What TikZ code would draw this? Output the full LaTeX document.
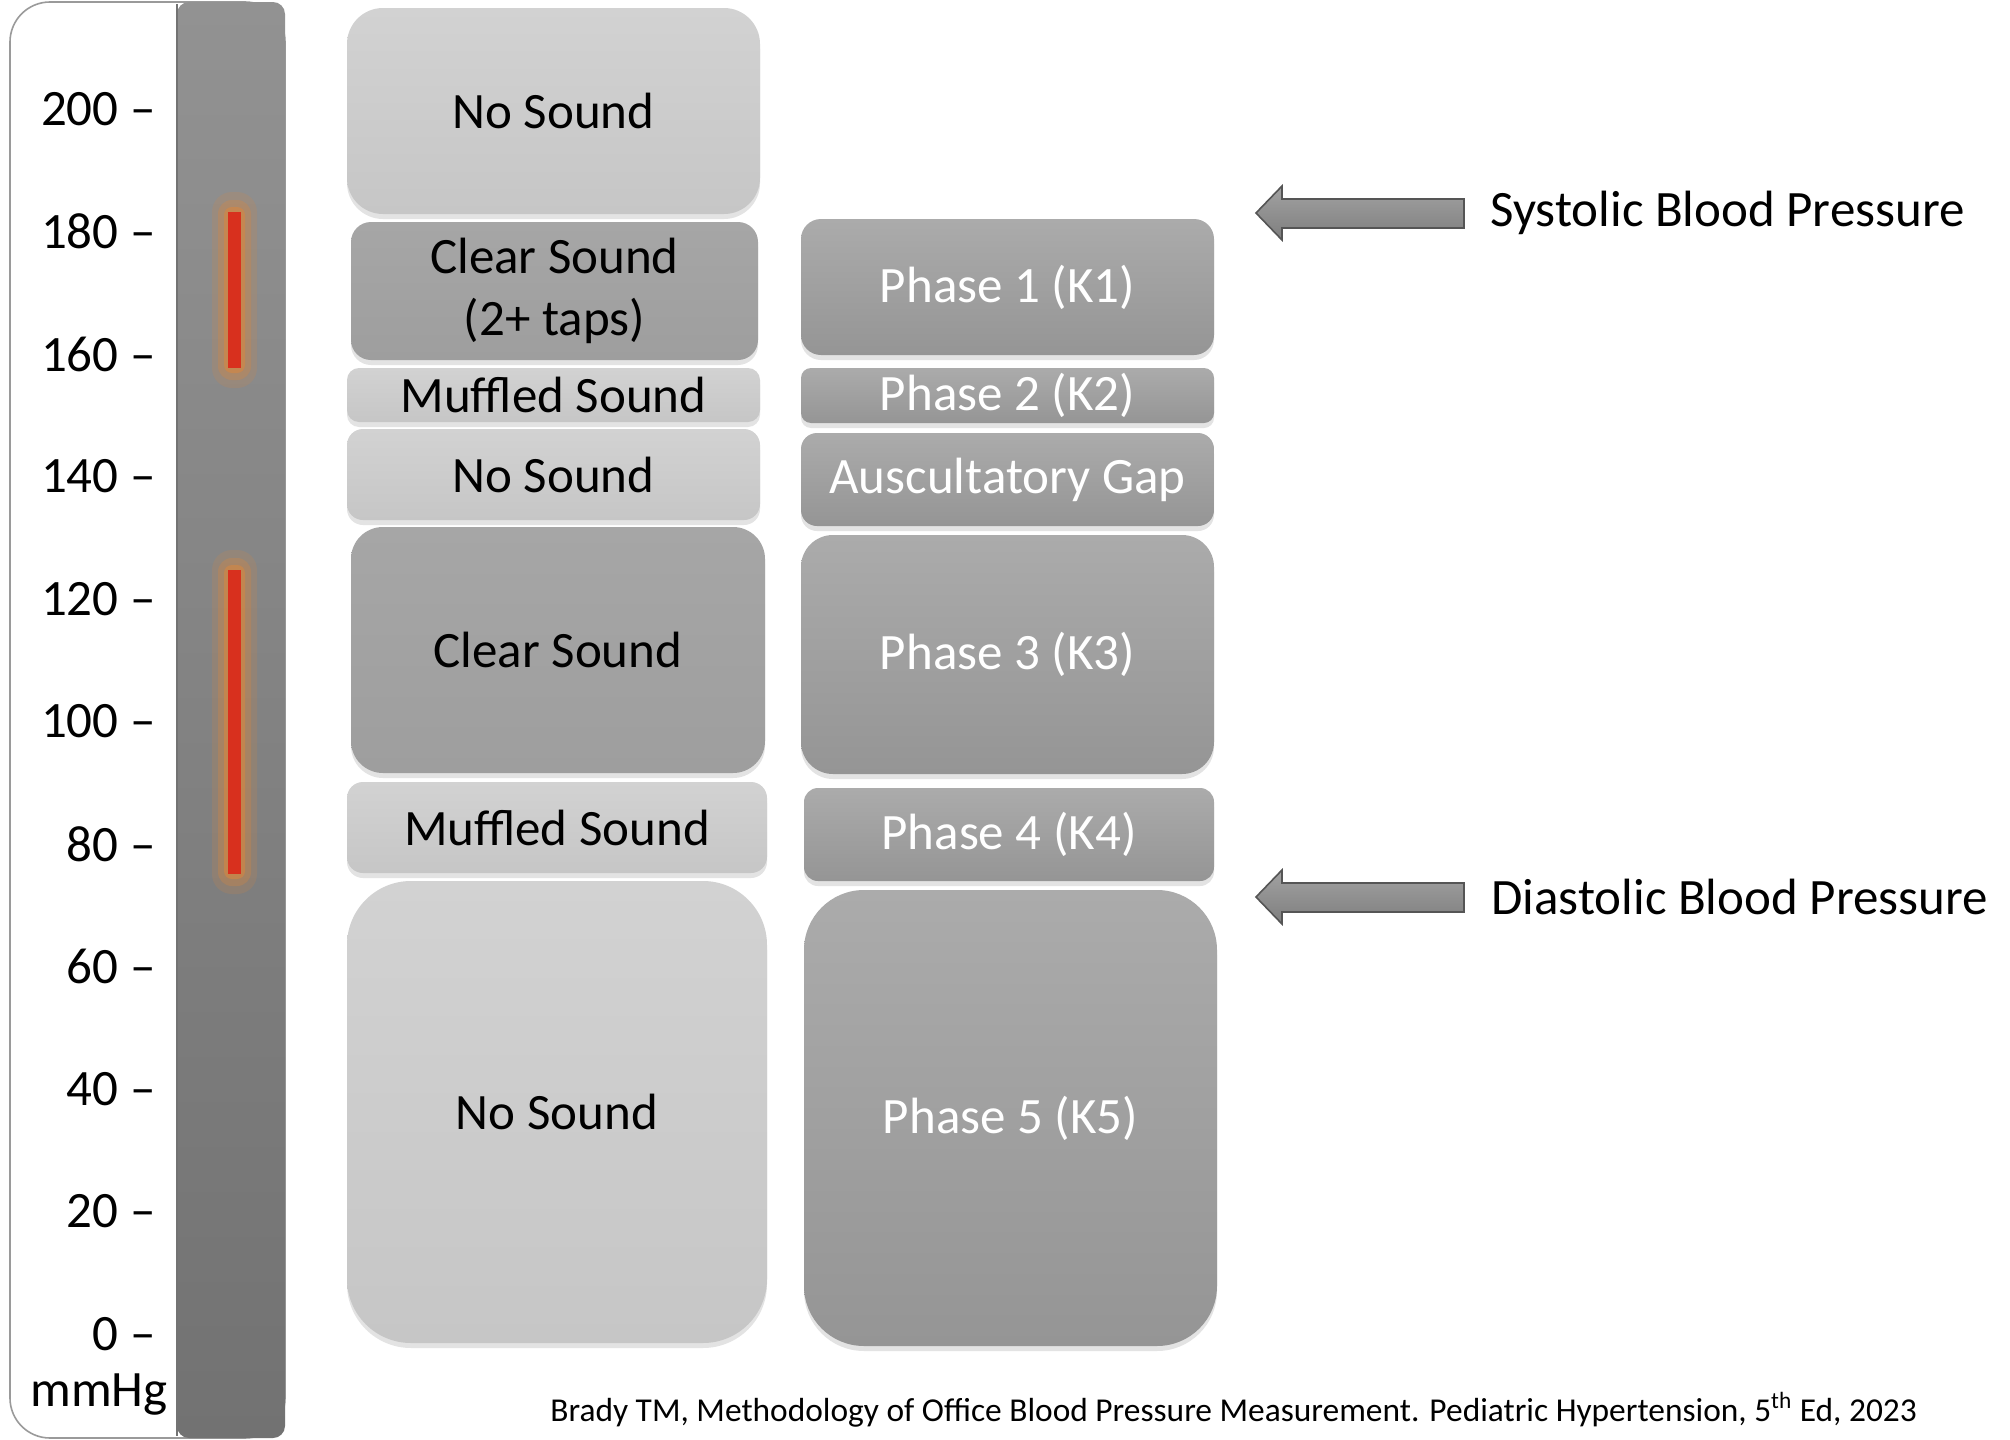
\documentclass[tikz,border=0pt]{standalone}
\usepackage{fontspec}
\setmainfont{Carlito}
\usetikzlibrary{shadows}
\definecolor{lighttop}{HTML}{D2D2D2}
\definecolor{lightbot}{HTML}{C6C6C6}
\definecolor{clearc}{HTML}{A6A6A6}
\definecolor{cleard}{HTML}{9E9E9E}
\definecolor{phasetop}{HTML}{ABABAB}
\definecolor{phasebot}{HTML}{959595}
\definecolor{bartop}{HTML}{929292}
\definecolor{barbot}{HTML}{727272}
\definecolor{panelline}{HTML}{9A9A9A}
\definecolor{redcore}{HTML}{D8301E}
\definecolor{glow}{HTML}{D9873E}
\definecolor{arrtop}{HTML}{A2A2A2}
\definecolor{arrbot}{HTML}{7E7E7E}
\definecolor{arrline}{HTML}{555555}
\begin{document}
\begin{tikzpicture}[x=0.5pt,y=-0.5pt,
  bigfont/.style={font=\fontsize{25.5}{31}\selectfont},
  scalelbl/.style={bigfont, anchor=east, inner sep=0pt, text=black},
  softshadow/.style={drop shadow={opacity=0.22, shadow xshift=0pt, shadow yshift=-2.5pt}},
  lightbox/.style={bigfont, rounded corners=#1, top color=lighttop, bottom color=lightbot, draw=none, inner sep=0pt, text=black, align=center, softshadow},
  clearbox/.style={bigfont, rounded corners=#1, top color=clearc, bottom color=cleard, draw=none, inner sep=0pt, text=black, align=center, softshadow},
  phasebox/.style={bigfont, rounded corners=#1, top color=phasetop, bottom color=phasebot, draw=none, inner sep=0pt, text=white, align=center, softshadow},
  bparrow/.style={top color=arrtop, bottom color=arrbot, draw=arrline, line width=0.8pt},
  sidelbl/.style={bigfont, anchor=west, inner sep=0pt, text=black}
]
\useasboundingbox (0,0) rectangle (2010,1440);
\fill[white] (0,0) rectangle (2010,1440);

% scale panel
\draw[panelline, line width=0.8pt, fill=white, rounded corners=20pt] (10,2) rectangle (285,1438);
\shade[top color=bartop, bottom color=barbot, rounded corners=6pt] (177,2) rectangle (285,1438);
\draw[black!55, line width=0.8pt] (177,4) -- (177,1436);

% red bars with glow
\foreach \ya/\yb in {212/368, 570/874}{
  \fill[glow, opacity=0.18, rounded corners=10pt] (212,\ya-20) rectangle (257,\yb+20);
  \fill[glow, opacity=0.30, rounded corners=7pt] (218,\ya-12) rectangle (251,\yb+12);
  \fill[glow, opacity=0.55, rounded corners=4pt] (224,\ya-5) rectangle (245,\yb+5);
  \fill[redcore] (228,\ya) rectangle (241,\yb);
}

% scale labels
\node[scalelbl] (s200) at (156,109) {200 –};
\node[scalelbl] (s180) at (156,231.5) {180 –};
\node[scalelbl] (s160) at (156,354) {160 –};
\node[scalelbl] (s140) at (156,476.5) {140 –};
\node[scalelbl] (s120) at (156,599) {120 –};
\node[scalelbl] (s100) at (156,721.5) {100 –};
\node[scalelbl] (s80) at (156,844) {80 –};
\node[scalelbl] (s60) at (156,966.5) {60 –};
\node[scalelbl] (s40) at (156,1089) {40 –};
\node[scalelbl] (s20) at (156,1211.5) {20 –};
\node[scalelbl] (s0) at (156,1334) {0 –};
\node[bigfont, inner sep=0pt] (unit) at (99,1395) {mmHg};

% sound column
\node[lightbox=18pt, minimum width=206.5pt, minimum height=103pt] (ns1) at (553.5,111) {No Sound};
\node[clearbox=10pt, minimum width=203.5pt, minimum height=69pt] (cs1) at (554.5,291) {Clear Sound\\(2+ taps)};
\node[lightbox=6pt, minimum width=206.5pt, minimum height=27pt] (ms1) at (553.5,395) {Muffled Sound};
\node[lightbox=8pt, minimum width=206.5pt, minimum height=45.5pt] (ns2) at (553.5,474.5) {No Sound};
\node[clearbox=16pt, minimum width=207pt, minimum height=123pt] (cs2) at (558,650) {Clear Sound};
\node[lightbox=8pt, minimum width=210pt, minimum height=45.5pt] (ms2) at (557,827.5) {Muffled Sound};
\node[lightbox=32pt, minimum width=210pt, minimum height=231pt] (ns3) at (557,1112) {No Sound};

% phase column
\node[phasebox=10pt, minimum width=206.5pt, minimum height=68pt] (p1) at (1007.5,287) {Phase 1 (K1)};
\node[phasebox=5pt, minimum width=206.5pt, minimum height=27.5pt] (p2) at (1007.5,395.5) {Phase 2 (K2)};
\node[phasebox=8pt, minimum width=206.5pt, minimum height=46.5pt] (ag) at (1007.5,479.5) {Auscultatory Gap};
\node[phasebox=16pt, minimum width=206.5pt, minimum height=119.5pt] (p3) at (1007.5,654.5) {Phase 3 (K3)};
\node[phasebox=7pt, minimum width=205pt, minimum height=46.5pt] (p4) at (1009,834.5) {Phase 4 (K4)};
\node[phasebox=30pt, minimum width=206.5pt, minimum height=228pt] (p5) at (1010.5,1118) {Phase 5 (K5)};

% block arrows
\draw[bparrow] (1256,213) -- (1282,186) -- (1282,199) -- (1464,199) -- (1464,228) -- (1282,228) -- (1282,240) -- cycle;
\draw[bparrow] (1256,897) -- (1282,870) -- (1282,883) -- (1464,883) -- (1464,912) -- (1282,912) -- (1282,924) -- cycle;
\node[sidelbl] (sys) at (1490,213) {Systolic Blood Pressure};
\node[sidelbl] (dia) at (1491,897) {Diastolic Blood Pressure};

% citation
\node[anchor=west, inner sep=0pt, font=\fontsize{16.7}{20}\selectfont] (cite) at (550,1410) {Brady TM, Methodology of Office Blood Pressure Measurement. Pediatric Hypertension, 5\textsuperscript{th} Ed, 2023};
\end{tikzpicture}
\end{document}
